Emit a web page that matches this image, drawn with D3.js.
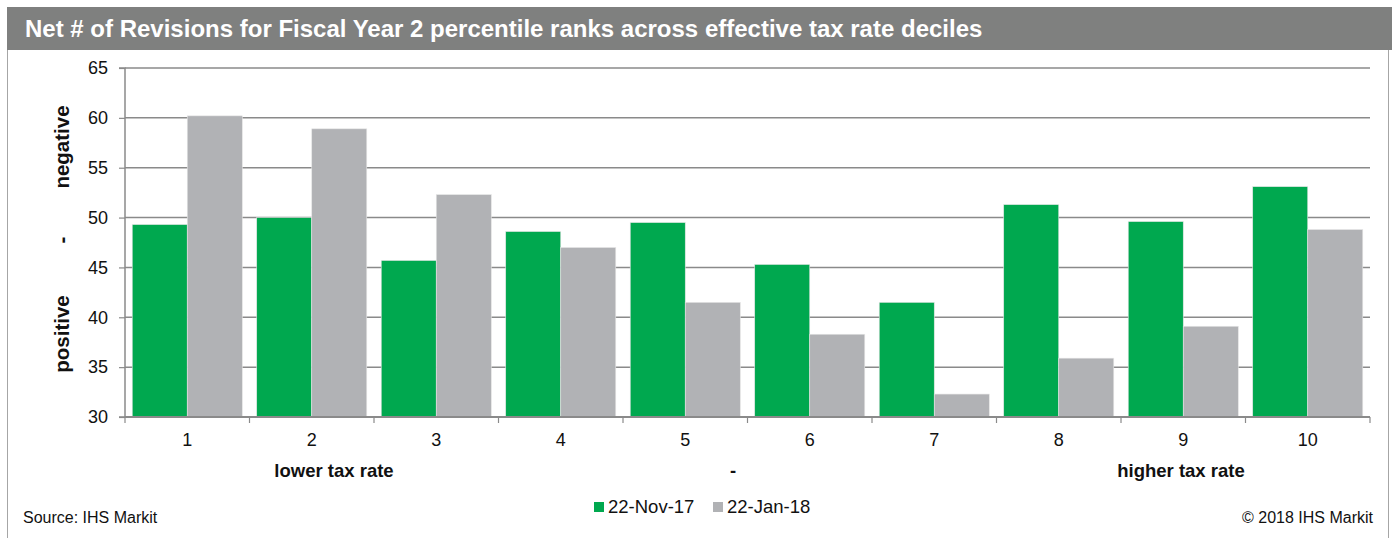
<!DOCTYPE html>
<html>
<head>
<meta charset="utf-8">
<script src="https://cdn.jsdelivr.net/npm/d3@7"></script>
<style>
  html, body { margin: 0; padding: 0; background: #fff; }
  svg { display: block; font-family: "Liberation Sans", Arial, sans-serif; }
</style>
</head>
<body>
<svg id="chart" width="1392" height="538"></svg>
<script>
// Effective tax rate deciles and net revision percentile ranks
const deciles = ["1", "2", "3", "4", "5", "6", "7", "8", "9", "10"];
const seriesNames = ["22-Nov-17", "22-Jan-18"];
const nov17 = [49.3, 50.0, 45.7, 48.6, 49.5, 45.3, 41.5, 51.3, 49.6, 53.1];
const jan18 = [60.2, 58.9, 52.3, 47.0, 41.5, 38.3, 32.3, 35.9, 39.1, 48.8];
const yTicks = [30, 35, 40, 45, 50, 55, 60, 65];
const colors = ["#00a84f", "#b1b2b5"];

const svg = d3.select("#chart");
const W = 1392, H = 538;

// Panel frame and title bar
svg.append("rect").attr("x", 7.5).attr("y", 7.5).attr("width", 1381).attr("height", 540)
  .attr("fill", "#fff").attr("stroke", "#a6a6a6").attr("stroke-width", 1);
svg.append("rect").attr("x", 7).attr("y", 7).attr("width", W - 7).attr("height", 43)
  .attr("fill", "#7f807f");
svg.append("text").attr("x", 25).attr("y", 37)
  .attr("fill", "#fff").attr("font-weight", "bold").attr("font-size", 24)
  .text("Net # of Revisions for Fiscal Year 2 percentile ranks across effective tax rate deciles");

const plot = { left: 125, right: 1370, top: 68, bottom: 417 };

const x0 = d3.scaleBand().domain(deciles).range([plot.left, plot.right])
  .paddingInner(0.116).paddingOuter(0.058);
const x1 = d3.scaleBand().domain(seriesNames).range([0, x0.bandwidth()]);
const y = d3.scaleLinear().domain([30, 65]).range([plot.bottom, plot.top]);

// Horizontal gridlines
svg.append("g").selectAll("line").data(yTicks.filter(t => t > 30)).join("line")
  .attr("x1", plot.left).attr("x2", plot.right)
  .attr("y1", d => y(d)).attr("y2", d => y(d))
  .attr("stroke", "#8a8a8a").attr("stroke-width", 1.5);

// Bars
const rows = deciles.map((d, i) => ({ key: d, values: [nov17[i], jan18[i]] }));
const groups = svg.append("g").selectAll("g").data(rows).join("g")
  .attr("transform", d => `translate(${x0(d.key)},0)`);
groups.selectAll("rect").data(d => d.values.map((v, j) => ({ s: seriesNames[j], v, j }))).join("rect")
  .attr("x", d => x1(d.s)).attr("width", x1.bandwidth())
  .attr("y", d => y(d.v)).attr("height", d => y(30) - y(d.v))
  .attr("fill", d => colors[d.j])
  .attr("stroke", "#e6e6e6").attr("stroke-width", 0.6);

// Y axis
const yAxis = d3.axisLeft(y).tickValues(yTicks).tickSize(6).tickPadding(11);
const gy = svg.append("g").attr("transform", `translate(${plot.left},0)`).call(yAxis);
gy.select(".domain").attr("stroke", "#8a8a8a").attr("stroke-width", 1.5)
  .attr("d", `M-6,${plot.top}H0V${plot.bottom}H-6`);
gy.selectAll(".tick line").attr("stroke", "#8a8a8a").attr("stroke-width", 1.2);
gy.selectAll(".tick text").attr("font-size", 18).attr("fill", "#111")
  .attr("font-family", "Liberation Sans, Arial, sans-serif");

// X axis with ticks on category boundaries
svg.append("line").attr("x1", plot.left).attr("x2", plot.right)
  .attr("y1", plot.bottom).attr("y2", plot.bottom)
  .attr("stroke", "#8a8a8a").attr("stroke-width", 1.8);
const step = (plot.right - plot.left) / deciles.length;
svg.append("g").selectAll("line").data(d3.range(deciles.length + 1)).join("line")
  .attr("x1", i => plot.left + i * step).attr("x2", i => plot.left + i * step)
  .attr("y1", plot.bottom).attr("y2", plot.bottom + 6)
  .attr("stroke", "#8a8a8a").attr("stroke-width", 1.2);
svg.append("g").selectAll("text").data(deciles).join("text")
  .attr("x", d => x0(d) + x0.bandwidth() / 2).attr("y", 446)
  .attr("text-anchor", "middle").attr("font-size", 18).attr("fill", "#111")
  .text(d => d);

// Axis captions
const xCaps = [["lower tax rate", 334], ["-", 733], ["higher tax rate", 1181]];
svg.append("g").selectAll("text").data(xCaps).join("text")
  .attr("x", d => d[1]).attr("y", 477).attr("text-anchor", "middle")
  .attr("font-size", 18.5).attr("font-weight", "bold").attr("fill", "#111")
  .text(d => d[0]);

const yCaps = [["positive", 334], ["-", 240], ["negative", 147]];
svg.append("g").selectAll("text").data(yCaps).join("text")
  .attr("transform", d => `translate(69,${d[1]}) rotate(-90)`)
  .attr("text-anchor", "middle").attr("font-size", 20.5).attr("font-weight", "bold").attr("fill", "#111")
  .text(d => d[0]);

// Legend
const legendPos = [594, 713];
const lg = svg.append("g").selectAll("g").data(seriesNames).join("g")
  .attr("transform", (d, i) => `translate(${legendPos[i]},502)`);
lg.append("rect").attr("width", 10).attr("height", 10).attr("fill", (d, i) => colors[i]);
lg.append("text").attr("x", 14).attr("y", 11).attr("font-size", 18.5).attr("fill", "#111")
  .text(d => d);

// Footer
svg.append("text").attr("x", 23).attr("y", 523).attr("font-size", 16).attr("fill", "#111")
  .text("Source: IHS Markit");
svg.append("text").attr("x", 1373).attr("y", 523).attr("text-anchor", "end")
  .attr("font-size", 16).attr("fill", "#111").text("© 2018 IHS Markit");
</script>
</body>
</html>
